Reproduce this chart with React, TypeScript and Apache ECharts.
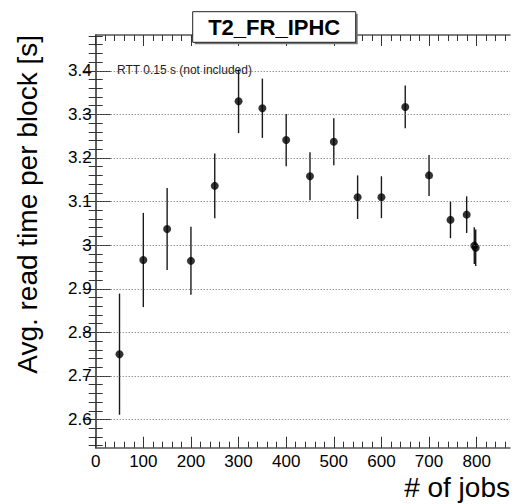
import React, { useEffect, useRef } from "react";
import * as echarts from "echarts";

// Average read time per block versus number of concurrent jobs
const jobs = [50, 100, 150, 200, 250, 300, 350, 400, 450, 500, 550, 600, 650, 700, 745, 779, 795, 798];
const readTime = [2.75, 2.966, 3.037, 2.964, 3.136, 3.33, 3.314, 3.241, 3.158, 3.237, 3.11, 3.11, 3.317, 3.16, 3.058, 3.07, 2.999, 2.994];
const readTimeErr = [0.139, 0.108, 0.094, 0.078, 0.074, 0.073, 0.068, 0.06, 0.055, 0.054, 0.05, 0.048, 0.049, 0.047, 0.042, 0.042, 0.042, 0.042];

const xMajorTicks = [0, 100, 200, 300, 400, 500, 600, 700, 800];
const yMajorTicks = [2.6, 2.7, 2.8, 2.9, 3.0, 3.1, 3.2, 3.3, 3.4];
const xMinorTicks: number[] = [];
for (let v = 20; v < 870; v += 20) xMinorTicks.push(v);
const yMinorTicks: number[] = [];
for (let k = 254; k <= 348; k += 2) yMinorTicks.push(k / 100);

const X_MIN = 0;
const X_MAX = 870;
const Y_MIN = 2.5355;
const Y_MAX = 3.482;

const FONT = '"Liberation Sans", Arial, Helvetica, sans-serif';
const FRAME = "#555";
const TICK = "#333";

function xAxis(position: "top" | "bottom", ticks: number[], len: number, line: boolean, labels: boolean) {
  return {
    type: "value",
    position,
    min: X_MIN,
    max: X_MAX,
    axisLine: { show: line, lineStyle: { color: FRAME, width: 1.5 } },
    axisTick: { show: true, inside: true, length: len, customValues: ticks, lineStyle: { color: TICK, width: 1 } },
    axisLabel: labels
      ? { show: true, customValues: xMajorTicks, color: "#000", fontSize: 17, fontFamily: FONT, margin: 5 }
      : { show: false },
    splitLine: { show: false },
  };
}

function yAxis(position: "left" | "right", ticks: number[], len: number, line: boolean, labels: boolean) {
  return {
    type: "value",
    position,
    min: Y_MIN,
    max: Y_MAX,
    axisLine: { show: line, lineStyle: { color: FRAME, width: 1.5 } },
    axisTick: { show: true, inside: true, length: len, customValues: ticks, lineStyle: { color: TICK, width: 1 } },
    axisLabel: labels
      ? {
          show: true,
          customValues: yMajorTicks,
          color: "#000",
          fontSize: 17,
          fontFamily: FONT,
          margin: 4,
          formatter: (v: number) => (Math.abs(v - 3) < 1e-9 ? "3" : v.toFixed(1)),
        }
      : { show: false },
    splitLine: { show: false },
  };
}

export default function App() {
  const ref = useRef<HTMLDivElement>(null);

  useEffect(() => {
    const chart = echarts.init(ref.current!, null, { renderer: "svg" });
    const option: any = {
      animation: false,
      backgroundColor: "#fff",
      grid: { left: 95.7, top: 35, right: 4, bottom: 56.3, containLabel: false, outerBoundsMode: "none" },
      xAxis: [
        xAxis("bottom", xMajorTicks, 11, true, true),
        xAxis("bottom", xMinorTicks, 6, false, false),
        xAxis("top", xMajorTicks, 11, true, false),
        xAxis("top", xMinorTicks, 6, false, false),
      ],
      yAxis: [
        yAxis("left", yMajorTicks, 15, true, true),
        yAxis("left", yMinorTicks, 7, false, false),
        yAxis("right", yMajorTicks, 13, true, false),
        yAxis("right", yMinorTicks, 7, false, false),
      ],
      series: [
        {
          type: "custom",
          xAxisIndex: 0,
          yAxisIndex: 0,
          silent: true,
          z: 3,
          data: jobs.map((x, i) => [x, readTime[i] - readTimeErr[i], readTime[i] + readTimeErr[i]]),
          encode: { x: 0, y: [1, 2] },
          renderItem: (_params: any, api: any) => {
            const lo = api.coord([api.value(0), api.value(1)]);
            const hi = api.coord([api.value(0), api.value(2)]);
            return {
              type: "line",
              shape: { x1: lo[0], y1: lo[1], x2: hi[0], y2: hi[1] },
              style: { stroke: "#1a1a1a", lineWidth: 1.4 },
            };
          },
        },
        {
          type: "scatter",
          xAxisIndex: 0,
          yAxisIndex: 0,
          silent: true,
          z: 4,
          symbol: "circle",
          symbolSize: 8,
          itemStyle: { color: "#000" },
          data: jobs.map((x, i) => [x, readTime[i]]),
          markLine: {
            silent: true,
            symbol: ["none", "none"],
            label: { show: false },
            lineStyle: { type: [1, 2], color: "#666", width: 1 },
            data: yMajorTicks.map((v) => ({ yAxis: v })),
          },
        },
      ],
      graphic: [
        {
          type: "text",
          left: 117,
          top: 64,
          style: { text: "RTT 0.15 s (not included)", fontSize: 12, fontFamily: FONT, fill: "#222" },
        },
        {
          type: "rect",
          shape: { x: 194.7, y: 13.7, width: 163, height: 30.6 },
          style: { fill: "#777" },
          z: 10,
        },
        {
          type: "rect",
          shape: { x: 192.7, y: 11.7, width: 163, height: 30.6 },
          style: { fill: "#fff", stroke: "#222", lineWidth: 1 },
          z: 11,
        },
        {
          type: "text",
          x: 274.2,
          y: 27.5,
          z: 12,
          style: {
            text: "T2_FR_IPHC",
            fontSize: 22,
            fontWeight: "bold",
            fontFamily: FONT,
            fill: "#000",
            textAlign: "center",
            textVerticalAlign: "middle",
          },
        },
        {
          type: "text",
          x: 27,
          y: 35,
          rotation: Math.PI / 2,
          style: {
            text: "Avg. read time per block [s]",
            fontSize: 28,
            fontFamily: FONT,
            fill: "#000",
            textAlign: "right",
            textVerticalAlign: "middle",
          },
        },
        {
          type: "text",
          x: 510,
          y: 487,
          style: {
            text: "# of jobs",
            fontSize: 28,
            fontFamily: FONT,
            fill: "#000",
            textAlign: "right",
            textVerticalAlign: "middle",
          },
        },
      ],
    };
    chart.setOption(option);
    return () => chart.dispose();
  }, []);

  return (
    <div
      ref={ref}
      style={{ position: "fixed", left: 0, top: 0, width: 514, height: 504, background: "#fff" }}
    />
  );
}
